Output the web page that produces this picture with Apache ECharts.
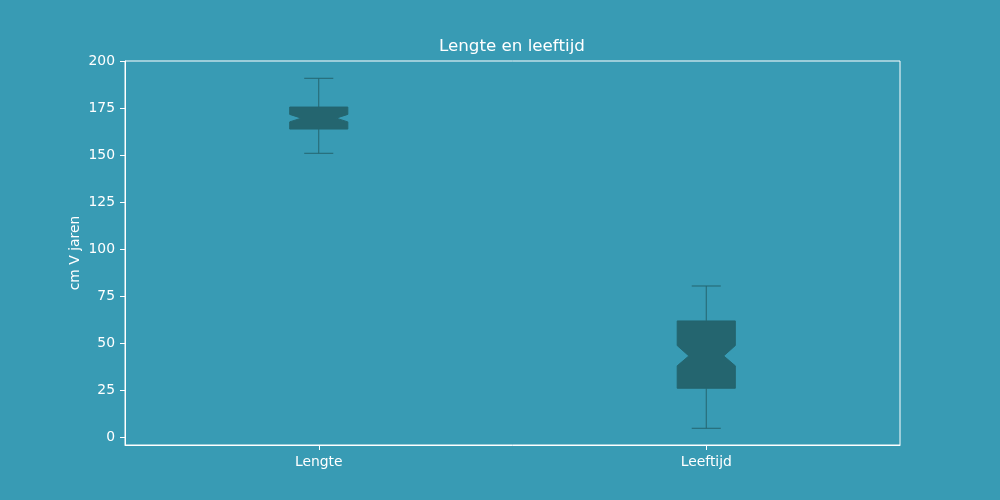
<!DOCTYPE html>
<html>
<head>
<meta charset="utf-8">
<script src="https://cdn.jsdelivr.net/npm/echarts@6/dist/echarts.min.js"></script>
<style>html,body{margin:0;padding:0;background:#389bb4;}#chart{width:1000px;height:500px;}</style>
</head>
<body>
<div id="chart"></div>
<script>
const categories = ['Lengte', 'Leeftijd'];
const whiskerLow = [150.9, 4.6];
const q1 = [163.8, 25.9];
const notchLow = [167.6, 37.8];
const median = [169.6, 43.1];
const notchHigh = [171.6, 48.6];
const q3 = [175.5, 61.7];
const whiskerHigh = [190.8, 80.3];
const yTicks = [0, 25, 50, 75, 100, 125, 150, 175, 200];

const bg = '#389bb4';
const boxColor = '#24656f';
const fg = '#ffffff';
const font = 'DejaVu Sans';

const data = categories.map((c, i) => [i, whiskerLow[i], q1[i], notchLow[i], median[i], notchHigh[i], q3[i], whiskerHigh[i]]);

function renderItem(params, api) {
  const x = api.value(0);
  const band = api.size([1, 0])[0];
  const hw = band * 0.075;
  const inset = hw * 0.4;
  const capHw = hw * 0.5;
  const p = v => api.coord([x, v]);
  const cx = p(api.value(4))[0];
  const L = cx - hw, R = cx + hw;
  const y = i => p(api.value(i))[1];
  const wl = y(1), b1 = y(2), nl = y(3), md = y(4), nh = y(5), b3 = y(6), wh = y(7);
  const ls = { stroke: boxColor, lineWidth: 1 };
  return {
    type: 'group',
    children: [
      { type: 'line', shape: { x1: cx, y1: b3, x2: cx, y2: wh }, style: ls },
      { type: 'line', shape: { x1: cx - capHw, y1: wh, x2: cx + capHw, y2: wh }, style: ls },
      { type: 'line', shape: { x1: cx, y1: b1, x2: cx, y2: wl }, style: ls },
      { type: 'line', shape: { x1: cx - capHw, y1: wl, x2: cx + capHw, y2: wl }, style: ls },
      {
        type: 'polygon',
        shape: {
          points: [[L, b1], [R, b1], [R, nl], [R - inset, md], [R, nh], [R, b3], [L, b3], [L, nh], [L + inset, md], [L, nl]]
        },
        style: { fill: boxColor, stroke: boxColor, lineWidth: 1 }
      }
    ]
  };
}

const chart = echarts.init(document.getElementById('chart'), null, { renderer: 'canvas' });
chart.setOption({
  backgroundColor: bg,
  animation: false,
  textStyle: { fontFamily: font },
  title: {
    text: 'Lengte en leeftijd',
    left: 434,
    top: 33,
    textStyle: { color: fg, fontSize: 16.7, fontWeight: 'normal', fontFamily: font }
  },
  grid: { left: 125, right: 100, top: 61, bottom: 55, show: true, borderColor: fg, borderWidth: 1, backgroundColor: 'transparent' },
  xAxis: {
    type: 'category',
    data: categories,
    boundaryGap: true,
    axisLine: { show: true, onZero: false, lineStyle: { color: fg } },
    axisTick: { show: true, alignWithLabel: true, length: 5, lineStyle: { color: fg } },
    axisLabel: { color: fg, fontSize: 13.9, margin: 10, fontFamily: font },
    splitLine: { show: false }
  },
  yAxis: {
    type: 'value',
    min: -4.3,
    max: 200,
    name: 'cm V jaren',
    nameLocation: 'middle',
    nameGap: 43,
    nameMoveOverlap: false,
    nameRotate: 90,
    nameTextStyle: { color: fg, fontSize: 13.9, fontFamily: font },
    axisLine: { show: true, onZero: false, lineStyle: { color: fg } },
    axisTick: { show: true, length: 5, lineStyle: { color: fg }, customValues: yTicks },
    axisLabel: { color: fg, fontSize: 13.9, margin: 10, fontFamily: font, customValues: yTicks },
    splitLine: { show: false }
  },
  series: [{
    type: 'custom',
    renderItem: renderItem,
    encode: { x: 0, y: [1, 2, 3, 4, 5, 6, 7] },
    data: data
  }]
});
</script>
</body>
</html>
